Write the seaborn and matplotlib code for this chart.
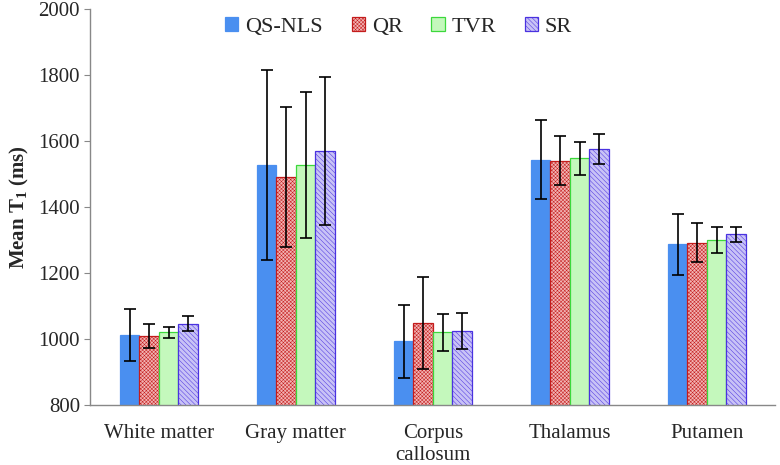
import matplotlib
matplotlib.use("Agg")
import matplotlib.pyplot as plt
import pandas as pd
import seaborn as sns

# ------------------------------------------------------
# Data
# ------------------------------------------------------
regions = ["White matter", "Gray matter", "Corpus\ncallosum", "Thalamus", "Putamen"]
methods = ["QS-NLS", "QR", "TVR", "SR"]

qs_nls_mean = [1012, 1527, 993, 1543, 1287]
qs_nls_sd = [78, 287, 110, 120, 92]
qr_mean = [1010, 1490, 1048, 1540, 1292]
qr_sd = [36, 212, 139, 74, 59]
tvr_mean = [1020, 1527, 1020, 1548, 1300]
tvr_sd = [16, 222, 57, 50, 40]
sr_mean = [1046, 1570, 1025, 1575, 1317]
sr_sd = [23, 225, 55, 45, 22]

means = [qs_nls_mean, qr_mean, tvr_mean, sr_mean]
sds = [qs_nls_sd, qr_sd, tvr_sd, sr_sd]

rows = []
for m, vals in zip(methods, means):
    for r, v in zip(regions, vals):
        rows.append({"Region": r, "Method": m, "T1": v})
df = pd.DataFrame(rows)

# ------------------------------------------------------
# Styling
# ------------------------------------------------------
sns.set_style("white")
plt.rcParams["font.family"] = "serif"
plt.rcParams["font.serif"] = ["Liberation Serif", "DejaVu Serif"]
plt.rcParams["mathtext.fontset"] = "custom"
plt.rcParams["mathtext.rm"] = "Liberation Serif"
plt.rcParams["mathtext.bf"] = "Liberation Serif:bold"
plt.rcParams["hatch.linewidth"] = 0.35

fills = ["#4a8ff0", "#f2b4b4", "#c4f8bc", "#c8c2f6"]
edges = ["#4a8ff0", "#c41c1c", "#3cd83c", "#4a32e0"]
hatches = [None, "xxxxxxxxx", "", "\\\\\\\\\\\\\\"]

fig = plt.figure(figsize=(7.8, 4.65), dpi=100)
ax = fig.add_axes([0.116, 0.129, 0.878, 0.852])

sns.barplot(
    data=df,
    x="Region",
    y="T1",
    hue="Method",
    hue_order=methods,
    order=regions,
    palette=fills,
    saturation=1,
    width=0.57,
    gap=0,
    errorbar=None,
    legend=False,
    ax=ax,
)

bar_containers = list(ax.containers)
for i, cont in enumerate(bar_containers):
    xs = []
    for p in cont.patches:
        p.set_edgecolor(edges[i])
        p.set_linewidth(0.9)
        if hatches[i]:
            p.set_hatch(hatches[i])
        xs.append(p.get_x() + p.get_width() / 2)
    ax.errorbar(xs, means[i], yerr=sds[i], fmt="none", ecolor="black",
                elinewidth=1.2, capsize=4, capthick=1.2, zorder=5)

ax.set_ylim(800, 2000)
ax.set_yticks(range(800, 2001, 200))
ax.set_xlim(-0.5, 4.5)
ax.set_xlabel("")
ax.set_ylabel("Mean T$_\\mathbf{1}$ (ms)", fontsize=15, fontweight="bold", labelpad=5)
ax.tick_params(axis="y", labelsize=15, length=4, color="#888888", left=True)
ax.tick_params(axis="x", labelsize=15, length=0, pad=14)

sns.despine(ax=ax)
for s in ["left", "bottom"]:
    ax.spines[s].set_color("#888888")
    ax.spines[s].set_linewidth(1.0)

ax.legend(bar_containers, methods, loc="upper center", bbox_to_anchor=(0.45, 1.03),
          ncol=4, frameon=False, fontsize=16, handlelength=0.6, handleheight=0.6,
          handletextpad=0.3, columnspacing=1.3)

fig.savefig("out.png", dpi=100)
